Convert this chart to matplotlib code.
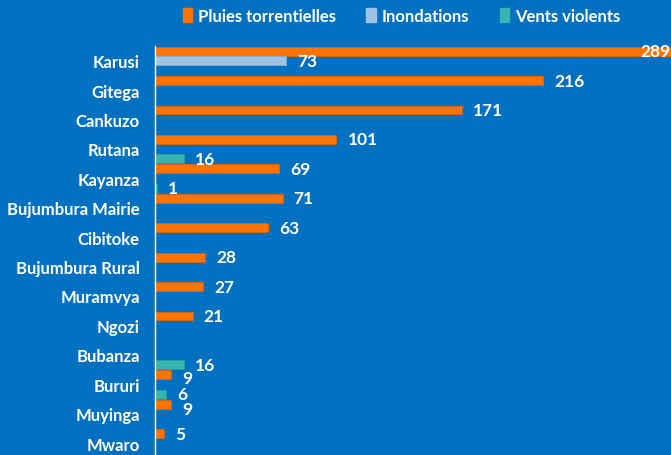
import numpy as np
import matplotlib
matplotlib.use("Agg")
import matplotlib.pyplot as plt
from matplotlib.patches import Patch

# --- data ---
provinces = ["Karusi", "Gitega", "Cankuzo", "Rutana", "Kayanza", "Bujumbura Mairie",
             "Cibitoke", "Bujumbura Rural", "Muramvya", "Ngozi", "Bubanza", "Bururi",
             "Muyinga", "Mwaro"]
pluies = [289, 216, 171, 101, 69, 71, 63, 28, 27, 21, np.nan, 9, 9, 5]
inondations = [73] + [np.nan] * 13
vents = [np.nan, np.nan, np.nan, 16, 1, np.nan, np.nan, np.nan, np.nan, np.nan,
         16, 6, np.nan, np.nan]

series_names = ["Pluies torrentielles", "Inondations", "Vents violents"]
colors = ["#FF7300", "#9DC3E6", "#36B5B0"]
edges = ["#D9640A", "#8AB0D4", "#2E9C98"]
bg = "#0070C0"

# labels that sit too close to a neighbour get pushed down a little (points)
nudge = {(0, "Bururi"): -2.5, (0, "Muyinga"): -3.5}

plt.rcParams["font.family"] = ["Lato", "DejaVu Sans"]
plt.rcParams["font.weight"] = "bold"

fig = plt.figure(figsize=(6.71, 4.56), dpi=100, facecolor=bg)
ax = fig.add_axes([0.231, -0.006, 0.769, 0.903], facecolor=bg)

y = np.arange(len(provinces))
offsets = [-0.32, 0.0, 0.34]
for k, (vals, off, c, ec) in enumerate(zip([pluies, inondations, vents], offsets, colors, edges)):
    vals = np.array(vals, dtype=float)
    ax.barh(y + off, vals, height=0.3, color=c, edgecolor=ec, linewidth=0.6, clip_on=True)
    for yi, v, name in zip(y, vals, provinces):
        if np.isnan(v):
            continue
        dy = nudge.get((k, name), 0)
        if v >= 287:
            ax.annotate(f"{int(v)}", (287, yi + off), xytext=(0, 0.5), textcoords="offset points",
                        ha="right", va="center", color="white", fontsize=12.5,
                        fontweight="bold", annotation_clip=False)
        else:
            ax.annotate(f"{int(v)}", (v, yi + off), xytext=(8, dy), textcoords="offset points",
                        ha="left", va="center", color="white", fontsize=12.5,
                        fontweight="bold")

ax.set_xlim(0, 287.3)
ax.set_ylim(len(provinces) - 0.5, -0.5)
ax.set_yticks(y)
ax.set_yticklabels(provinces, color="white", fontsize=12, fontweight="bold")
ax.tick_params(axis="y", length=0, pad=11)
ax.set_xticks([])
for s in ["top", "right", "bottom"]:
    ax.spines[s].set_visible(False)
ax.spines["left"].set_color("white")
ax.spines["left"].set_linewidth(1)

handles = [Patch(facecolor=c, edgecolor=c) for c in colors]
fig.legend(handles, series_names, loc="center", bbox_to_anchor=(0.598, 0.963), ncol=3,
           frameon=False, fontsize=12, labelcolor="white", handlelength=0.55,
           handleheight=0.85, handletextpad=0.35, columnspacing=1.85)

fig.savefig("out.png", dpi=100, facecolor=bg)
